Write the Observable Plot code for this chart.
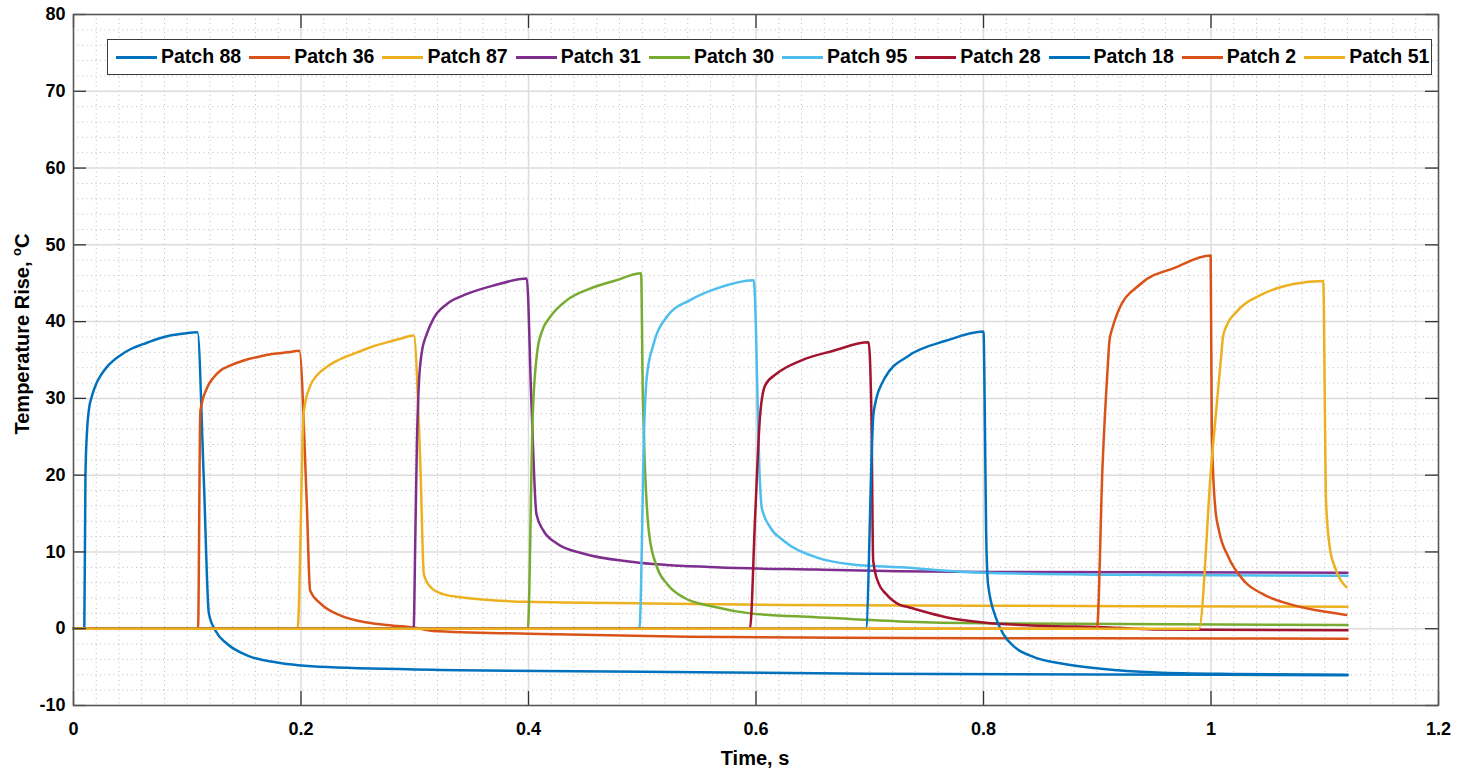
<!DOCTYPE html>
<html><head><meta charset="utf-8">
<script src="https://cdn.jsdelivr.net/npm/d3@7"></script>
<script src="https://cdn.jsdelivr.net/npm/@observablehq/plot@0.6"></script>
<style>
html,body{margin:0;padding:0;background:#fff;}
#wrap{position:relative;width:1473px;height:778px;font-family:"Liberation Sans",Arial,Helvetica,sans-serif;font-weight:bold;color:#000;overflow:hidden;}
#chart{position:absolute;left:0;top:0;}
#legend{position:absolute;left:107px;top:39px;width:1325px;height:36px;box-sizing:border-box;border:1.5px solid #3a3a3a;background:#fff;display:flex;align-items:center;padding-left:8px;white-space:nowrap;}
.item{display:flex;align-items:center;margin-right:8px;flex:0 0 auto;white-space:nowrap;}
.sw{width:41px;height:3px;margin-right:4px;flex:0 0 auto;}
.lab{font-size:19.5px;line-height:1;white-space:nowrap;}
#ylab{position:absolute;left:22px;top:334px;transform:translate(-50%,-50%) rotate(-90deg);font-size:20px;white-space:nowrap;}
#ylab sup{font-size:13px;vertical-align:0.55em;line-height:0;}
#xlab{position:absolute;left:755px;top:758px;transform:translate(-50%,-50%);font-size:20px;white-space:nowrap;}
</style>
</head><body>
<div id="wrap">
  <div id="chart"></div>
  <div id="legend"></div>
  <div id="ylab">Temperature Rise, <sup>o</sup>C</div>
  <div id="xlab">Time, s</div>
</div>
<script>
// ---- series names (legend order) ----
const names = ["Patch 88","Patch 36","Patch 87","Patch 31","Patch 30","Patch 95","Patch 28","Patch 18","Patch 2","Patch 51"];

// ---- tick values ----
const xTicks = [0, 0.2, 0.4, 0.6, 0.8, 1, 1.2];
const yTicks = [-10, 0, 10, 20, 30, 40, 50, 60, 70, 80];

// ---- series data (time in s, temperature rise in °C) ----
const p88T = [0,0.0095,0.0105,0.012,0.0135,0.016,0.02,0.024,0.03,0.041,0.05,0.062,0.075,0.085,0.097,0.109,0.1145,0.119,0.125,0.135,0.153,0.179,0.223,0.34,0.5,0.7,0.9,1.12];
const p88V = [0,0,20,26,28.5,30.2,31.9,33.0,34.2,35.6,36.4,37.1,37.8,38.2,38.45,38.6,19.7,2,-0.3,-1.96,-3.5,-4.4,-5.0,-5.4,-5.6,-5.85,-5.95,-6.05];

const p36T = [0,0.1095,0.1115,0.1175,0.123,0.129,0.138,0.149,0.162,0.176,0.188,0.1985,0.205,0.208,0.217,0.235,0.258,0.281,0.299,0.316,0.4,0.54,0.73,0.9,1.12];
const p36V = [0,0,28.3,31.4,32.7,33.6,34.3,34.9,35.4,35.8,36.0,36.2,16.7,5.0,3.3,1.7,0.8,0.4,0.15,-0.3,-0.65,-1.04,-1.2,-1.25,-1.3];

const p87T = [0,0.197,0.2025,0.208,0.214,0.2225,0.233,0.246,0.26,0.2755,0.288,0.299,0.305,0.308,0.314,0.325,0.34,0.40,0.507,0.624,0.8,1.12];
const p87V = [0,0,28.3,31.6,33.0,34.1,35.0,35.8,36.6,37.3,37.8,38.2,21.0,7.1,5.4,4.5,4.1,3.5,3.3,3.1,3.0,2.85];

const p31T = [0,0.299,0.3005,0.302,0.3035,0.306,0.3106,0.3165,0.3283,0.346,0.3693,0.3985,0.4025,0.407,0.413,0.425,0.448,0.492,0.565,0.653,0.726,0.8,1.12];
const p31V = [0,0,11.9,24.9,31.5,35.8,38.4,40.4,42.3,43.6,44.7,45.6,29.7,14.9,12.8,11.1,9.8,8.7,8.0,7.7,7.5,7.4,7.3];

const p30T = [0,0.3994,0.4037,0.4079,0.412,0.419,0.4338,0.454,0.4776,0.499,0.5005,0.506,0.513,0.522,0.536,0.565,0.595,0.653,0.726,0.8,1.12];
const p30V = [0,0,27.6,36.3,38.8,40.6,42.8,44.3,45.4,46.3,30.6,12.4,8.0,5.8,4.1,2.8,2.0,1.5,0.95,0.7,0.48];

const p95T = [0,0.4975,0.502,0.504,0.51,0.5215,0.542,0.565,0.598,0.6035,0.605,0.6125,0.624,0.653,0.683,0.727,0.8,0.95,1.12];
const p95V = [0,0,27.6,32.8,37.1,40.6,42.8,44.3,45.4,18.9,15.8,13.2,11.5,9.3,8.4,8.0,7.3,7.0,6.9];

const p28T = [0,0.5947,0.5992,0.6035,0.608,0.618,0.639,0.668,0.699,0.7015,0.703,0.7075,0.7145,0.7265,0.734,0.767,0.8,0.85,0.911,0.95,1.12];
const p28V = [0,0,14.5,27.6,31.7,33.2,34.9,36.2,37.3,27.6,8.9,6.0,4.5,3.1,2.8,1.5,0.8,0.4,0.17,-0.1,-0.2];

const p18T = [0,0.6966,0.7034,0.7134,0.7336,0.767,0.8,0.8013,0.8023,0.804,0.8107,0.8174,0.8275,0.8443,0.871,0.918,0.952,1.019,1.12];
const p18V = [0,0,28.2,32.7,35.5,37.5,38.7,25.8,12.8,5.8,1.5,-0.7,-2.4,-3.7,-4.6,-5.4,-5.7,-5.9,-6.0];

const p2T = [0,0.8997,0.9047,0.9095,0.9107,0.913,0.918,0.938,0.968,0.9997,1.0007,1.0037,1.007,1.0154,1.0289,1.0456,1.069,1.093,1.119];
const p2V = [0,0,21.4,34.8,37.5,39.0,41.2,44.9,47.0,48.6,25.8,15.8,12.8,9.3,6.25,4.5,3.2,2.4,1.8];

const p51T = [0,0.9893,1.0003,1.0092,1.0104,1.0135,1.022,1.0456,1.0725,1.0987,1.1003,1.101,1.1044,1.109,1.119];
const p51V = [0,0,21.4,35.9,37.9,39.4,41.2,43.6,44.9,45.3,25.8,17.1,10.6,8.0,5.4];

const seriesT = [p88T,p36T,p87T,p31T,p30T,p95T,p28T,p18T,p2T,p51T];
const seriesV = [p88V,p36V,p87V,p31V,p30V,p95V,p28V,p18V,p2V,p51V];

// ---- styling ----
const palette = ["#0072BD","#D95319","#EDB120","#7E2F8E","#77AC30","#4DBEEE","#A2142F","#0072BD","#D95319","#EDB120"];
const xMinor = d3.ticks(0, 1.2, 60).filter(d => !xTicks.some(t => Math.abs(t - d) < 1e-9));
const yMinor = d3.ticks(-10, 80, 36).filter(d => !yTicks.some(t => Math.abs(t - d) < 1e-9));
const fmt = d => String(d);
const axisCol = "#333333";

const lineMarks = names.map((n, k) => Plot.line(
  seriesT[k].map((t, i) => ({t, v: seriesV[k][i], name: n})),
  {x: "t", y: "v", stroke: palette[k], strokeWidth: 2.5, strokeLinejoin: "round", curve: "monotone-x"}
));

const chart = Plot.plot({
  width: 1473,
  height: 778,
  marginLeft: 73,
  marginRight: 35,
  marginTop: 14,
  marginBottom: 73,
  style: {fontFamily: '"Liberation Sans", Arial, Helvetica, sans-serif', fontSize: "18px", fontWeight: "bold", color: "#000", background: "transparent"},
  x: {domain: [0, 1.2], ticks: xTicks, tickSize: 0, tickPadding: 17, tickFormat: fmt, label: null},
  y: {domain: [-10, 80], ticks: yTicks, tickSize: 0, tickPadding: 8, tickFormat: fmt, label: null},
  marks: [
    Plot.ruleX(xMinor, {x: d => d, stroke: "#bdbdbd", strokeWidth: 1, strokeDasharray: "1,3.5"}),
    Plot.ruleY(yMinor, {y: d => d, stroke: "#bdbdbd", strokeWidth: 1, strokeDasharray: "1,3.5"}),
    Plot.ruleX(xTicks, {x: d => d, stroke: "#dcdcdc", strokeWidth: 1.5}),
    Plot.ruleY(yTicks, {y: d => d, stroke: "#dcdcdc", strokeWidth: 1.5}),
    ...lineMarks,
    Plot.ruleX(xTicks, {x: d => d, y1: -10, y2: -10, insetTop: -14, stroke: axisCol, strokeWidth: 1.3}),
    Plot.ruleX(xTicks, {x: d => d, y1: 80, y2: 80, insetBottom: -14, stroke: axisCol, strokeWidth: 1.3}),
    Plot.ruleY(yTicks, {y: d => d, x1: 0, x2: 0, insetRight: -13, stroke: axisCol, strokeWidth: 1.3}),
    Plot.ruleY(yTicks, {y: d => d, x1: 1.2, x2: 1.2, insetLeft: -13, stroke: axisCol, strokeWidth: 1.3}),
    Plot.frame({stroke: "#555555", strokeWidth: 1.5})
  ]
});
document.getElementById("chart").appendChild(chart);

// ---- legend ----
const leg = document.getElementById("legend");
names.forEach((n, k) => {
  const it = document.createElement("div");
  it.className = "item";
  const sw = document.createElement("div");
  sw.className = "sw";
  sw.style.background = palette[k];
  const lb = document.createElement("span");
  lb.className = "lab";
  lb.textContent = n;
  it.appendChild(sw); it.appendChild(lb);
  leg.appendChild(it);
});
</script>
</body></html>
